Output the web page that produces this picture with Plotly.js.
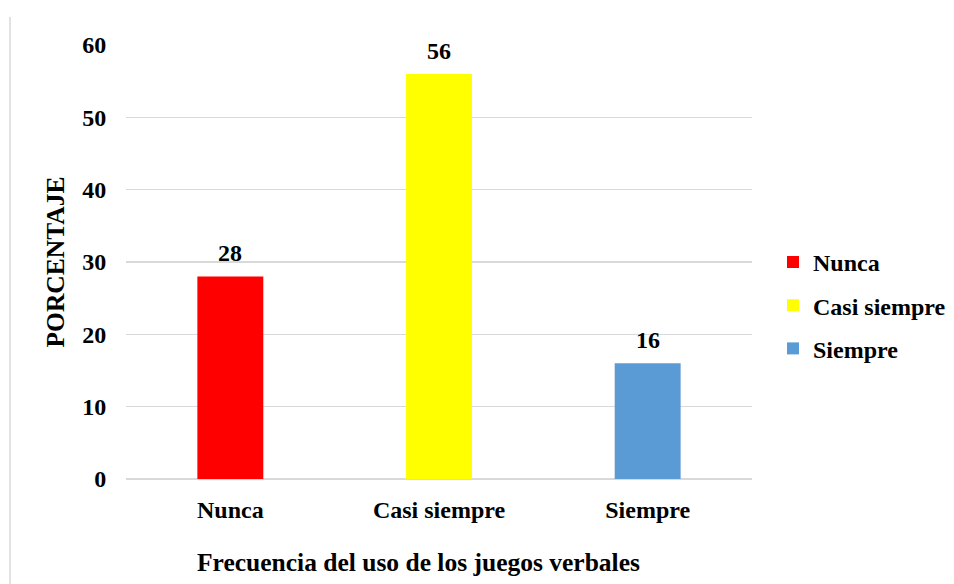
<!DOCTYPE html>
<html>
<head>
<meta charset="utf-8">
<script src="https://cdn.plot.ly/plotly-3.0.1.min.js"></script>
<style>
html,body{margin:0;padding:0;background:#fff;}
#chart{width:954px;height:584px;}
</style>
</head>
<body>
<div id="chart"></div>
<script>
const categories = ["Nunca", "Casi siempre", "Siempre"];
const values = [28, 56, 16];
const colors = ["#FF0000", "#FFFF00", "#5B9BD5"];
const yTicks = [0, 10, 20, 30, 40, 50, 60];
const xTitle = "Frecuencia del uso de los juegos verbales";
const yTitle = "PORCENTAJE";

const FONT = "Liberation Serif, Times New Roman, serif";

const traces = categories.map((c, i) => ({
  type: "bar",
  name: c,
  x: [c],
  y: [values[i]],
  width: 0.316,
  marker: {color: colors[i]},
  legendgroup: "g" + i,
  hoverinfo: "x+y"
}));

const annotations = categories.map((c, i) => ({
  x: c, y: values[i], xref: "x", yref: "y",
  text: "<b>" + values[i] + "</b>",
  showarrow: false, yanchor: "bottom", yshift: 8,
  font: {family: FONT, size: 24, color: "#000"}
}));
annotations.push({
  x: (418 - 126) / 626, xref: "paper", xanchor: "center",
  y: (479 - 562) / 434, yref: "paper", yanchor: "middle",
  text: "<b>" + xTitle + "</b>", showarrow: false,
  font: {family: FONT, size: 25.5, color: "#000"}
});

const layout = {
  width: 954, height: 584,
  margin: {l: 126, r: 202, t: 45, b: 105},
  paper_bgcolor: "#fff", plot_bgcolor: "#fff",
  barmode: "overlay",
  font: {family: FONT, color: "#000"},
  showlegend: true,
  legend: {
    xref: "container", x: 773 / 954, xanchor: "left",
    yref: "paper", y: 0.40, yanchor: "middle",
    traceorder: "grouped", tracegroupgap: 9,
    font: {family: FONT, size: 24, color: "#000", weight: "bold"}
  },
  xaxis: {
    type: "category",
    categoryorder: "array", categoryarray: categories,
    range: [-0.5, 2.5],
    showgrid: false, showline: false, zeroline: false,
    ticks: "outside", ticklen: 9, tickcolor: "rgba(0,0,0,0)",
    tickfont: {family: FONT, size: 24, color: "#000", weight: "bold"}
  },
  yaxis: {
    range: [0, 60], tickvals: yTicks, ticktext: yTicks.map(String),
    showgrid: true, gridcolor: "#D9D9D9", gridwidth: 1.5,
    zeroline: true, zerolinecolor: "#D9D9D9", zerolinewidth: 1.5,
    showline: false,
    ticks: "outside", ticklen: 14, tickcolor: "rgba(0,0,0,0)",
    tickfont: {family: FONT, size: 24, color: "#000", weight: "bold"},
    title: {text: "<b>" + yTitle + "</b>", standoff: 10,
            font: {family: FONT, size: 25.5, color: "#000"}}
  },
  annotations: annotations,
  shapes: [{
    type: "line", xref: "paper", yref: "paper",
    x0: (10 - 126) / 626, x1: (10 - 126) / 626,
    y0: (479 - 17) / 434, y1: (479 - 600) / 434,
    line: {color: "#D9D9D9", width: 1.5}
  }]
};

Plotly.newPlot("chart", traces, layout, {displayModeBar: false, staticPlot: true});
</script>
</body>
</html>
